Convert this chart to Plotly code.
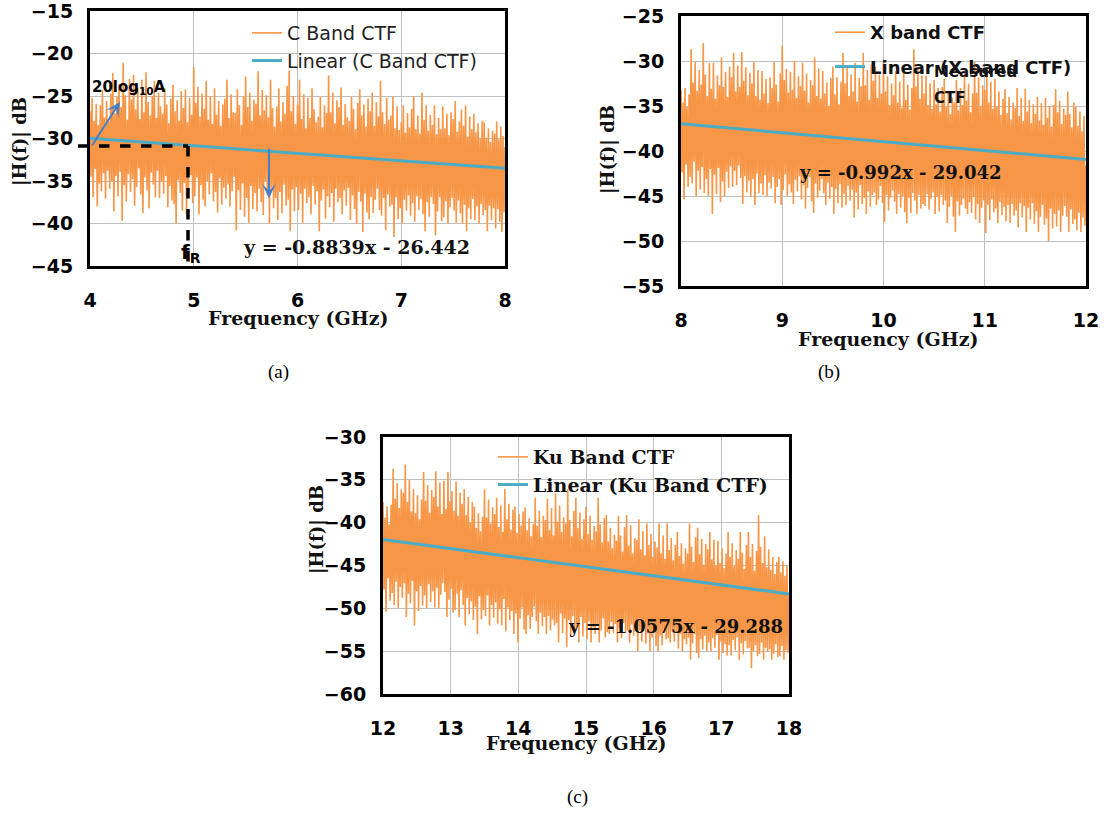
import numpy as np
import plotly.graph_objects as go

# ---------------- data ----------------
c_band_range = [4, 8]      # GHz
x_band_range = [8, 12]
ku_band_range = [12, 18]

c_band_db = [
    -26.8, -34.5, -25.2, -36.9, -27.9, -33.6, -25.9, -38.0, -28.4, -35.3,
    -26.1, -36.2, -24.3, -34.1, -27.5, -37.1, -25.6, -33.8, -28.0, -35.9,
    -24.7, -35.0, -22.3, -38.6, -27.0, -34.4, -25.1, -36.8, -23.6, -33.9,
    -26.3, -39.7, -21.1, -35.5, -24.9, -37.4, -27.8, -34.2, -23.0, -36.3,
    -25.4, -34.8, -22.5, -37.9, -26.6, -35.7, -24.0, -33.5, -27.7, -36.6,
    -23.1, -38.8, -26.9, -34.6, -22.2, -36.1, -25.7, -38.2, -27.3, -34.0,
    -25.0, -35.4, -23.2, -36.9, -27.6, -33.8, -24.6, -37.0, -26.2, -35.1,
    -27.1, -36.5, -24.1, -34.4, -26.0, -38.1, -28.2, -35.6, -25.3, -37.3,
    -23.7, -37.7, -26.8, -40.0, -25.5, -34.9, -27.9, -36.4, -24.4, -38.5,
    -26.4, -35.2, -24.2, -38.9, -28.1, -36.0, -25.2, -34.3, -27.2, -37.6,
    -21.6, -36.8, -25.8, -34.6, -23.9, -38.9, -27.4, -35.5, -24.7, -37.2,
    -26.5, -38.0, -23.2, -35.0, -27.8, -36.6, -25.0, -34.1, -28.3, -37.4,
    -24.1, -36.3, -27.2, -38.7, -25.6, -34.7, -28.5, -37.8, -26.0, -35.8,
    -25.3, -37.1, -23.1, -35.4, -27.6, -38.0, -24.8, -36.2, -26.9, -34.5,
    -27.0, -40.8, -24.2, -36.1, -26.1, -38.4, -28.4, -35.3, -25.1, -39.2,
    -22.7, -37.0, -26.3, -39.9, -24.6, -35.6, -27.9, -38.3, -25.4, -36.4,
    -25.9, -38.6, -22.1, -35.9, -27.3, -37.5, -24.3, -39.0, -26.7, -35.0,
    -24.9, -36.7, -27.5, -40.0, -23.1, -35.8, -26.4, -38.2, -28.6, -37.0,
    -26.2, -39.6, -24.1, -36.3, -28.0, -38.8, -25.7, -35.4, -27.1, -37.9,
    -23.8, -37.2, -22.0, -40.9, -26.8, -36.0, -25.0, -38.6, -28.3, -35.7,
    -26.0, -38.4, -23.1, -36.5, -27.7, -39.9, -24.8, -35.9, -28.8, -37.6,
    -25.2, -36.9, -27.6, -38.9, -24.1, -35.6, -26.6, -37.8, -28.1, -36.2,
    -27.4, -40.9, -25.1, -37.3, -28.7, -36.0, -26.1, -39.4, -27.0, -36.8,
    -22.6, -38.1, -26.9, -36.4, -24.6, -39.8, -28.2, -35.9, -25.5, -37.5,
    -26.3, -37.0, -24.0, -38.9, -28.4, -36.1, -25.9, -37.9, -27.5, -35.8,
    -27.9, -39.6, -25.1, -36.7, -26.5, -38.3, -28.9, -40.0, -25.8, -36.3,
    -24.2, -37.4, -27.3, -41.0, -26.0, -36.5, -28.6, -38.7, -25.3, -39.5,
    -26.8, -36.9, -24.6, -38.8, -28.5, -37.2, -25.7, -35.9, -27.4, -38.4,
    -23.2, -39.1, -26.9, -37.0, -28.3, -40.8, -25.2, -36.6, -27.8, -38.0,
    -27.3, -37.8, -25.1, -41.6, -28.8, -36.9, -26.2, -39.5, -29.0, -38.2,
    -28.1, -39.9, -26.1, -37.2, -29.3, -38.5, -27.0, -36.7, -28.7, -39.1,
    -26.5, -37.6, -25.0, -39.8, -28.9, -36.8, -27.3, -38.4, -29.4, -37.1,
    -24.6, -38.9, -27.8, -40.9, -26.1, -37.5, -29.1, -39.2, -27.2, -36.9,
    -28.4, -37.7, -26.1, -41.4, -29.5, -38.6, -27.6, -36.9, -28.9, -39.7,
    -26.2, -39.3, -28.8, -37.4, -27.1, -40.0, -29.6, -38.1, -26.9, -37.0,
    -27.7, -38.5, -25.6, -39.9, -29.2, -37.3, -28.0, -38.8, -26.6, -40.0,
    -28.5, -37.8, -26.1, -40.9, -29.8, -38.2, -27.4, -39.5, -28.9, -37.1,
    -27.1, -39.6, -29.3, -38.0, -28.2, -40.0, -30.0, -37.7, -27.9, -39.0,
    -28.1, -38.4, -29.9, -40.9, -28.8, -37.9, -30.4, -39.6, -29.1, -38.2,
    -29.4, -40.6, -28.0, -38.3, -30.1, -39.8, -28.6, -41.0, -29.7, -38.7,
    -31.0,
]

x_band_db = [
    -33.2, -42.4, -34.6, -45.4, -33.0, -41.5, -35.1, -44.0, -33.7, -42.9,
    -28.7, -43.6, -32.4, -41.2, -30.1, -45.0, -33.3, -42.2, -31.0, -44.3,
    -32.6, -41.8, -28.0, -44.7, -31.5, -43.1, -33.9, -45.0, -30.2, -42.0,
    -33.1, -47.0, -30.2, -42.6, -34.2, -44.8, -31.6, -41.9, -32.7, -45.7,
    -29.6, -43.4, -32.9, -45.0, -31.2, -42.3, -34.0, -44.1, -30.6, -41.7,
    -31.8, -44.0, -29.1, -42.2, -33.4, -43.8, -30.5, -41.6, -32.9, -43.0,
    -29.0, -45.9, -32.2, -42.8, -30.7, -44.6, -33.8, -43.3, -31.3, -45.1,
    -32.5, -43.1, -30.1, -46.0, -33.9, -42.5, -31.0, -44.7, -34.3, -43.6,
    -31.1, -44.9, -33.6, -42.7, -32.0, -45.0, -34.7, -43.5, -31.8, -44.2,
    -33.0, -42.9, -30.1, -45.8, -32.6, -44.0, -34.5, -43.1, -31.4, -46.0,
    -28.3, -44.3, -32.1, -42.6, -30.9, -45.0, -33.5, -43.7, -31.2, -44.6,
    -33.2, -45.9, -30.0, -43.2, -34.1, -44.5, -31.7, -42.8, -32.8, -45.4,
    -30.2, -43.8, -33.3, -46.4, -31.4, -44.1, -34.6, -42.9, -32.1, -45.6,
    -32.7, -46.9, -29.6, -43.6, -33.9, -45.2, -30.8, -44.4, -34.2, -43.1,
    -31.1, -44.7, -33.6, -46.0, -32.4, -43.5, -35.0, -45.3, -31.9, -44.0,
    -30.6, -47.0, -33.7, -44.2, -31.8, -45.8, -34.8, -43.7, -32.3, -46.3,
    -29.1, -44.8, -32.5, -46.0, -30.6, -43.9, -33.9, -45.5, -31.5, -44.3,
    -33.4, -47.4, -30.2, -44.6, -34.5, -46.5, -31.9, -43.8, -32.8, -45.9,
    -29.1, -45.2, -32.7, -47.0, -31.0, -44.5, -34.3, -46.2, -30.4, -44.9,
    -32.2, -44.6, -30.6, -46.0, -34.1, -45.4, -31.5, -43.9, -33.6, -45.8,
    -30.1, -47.9, -33.4, -44.9, -31.7, -46.6, -34.9, -45.2, -32.5, -44.4,
    -33.8, -45.6, -31.1, -47.0, -34.6, -44.8, -32.3, -46.3, -35.2, -45.0,
    -31.2, -46.8, -34.3, -48.0, -32.6, -45.2, -35.4, -46.9, -33.0, -44.7,
    -28.7, -45.5, -32.8, -47.0, -30.9, -44.9, -34.2, -46.4, -31.6, -45.9,
    -33.6, -46.1, -31.6, -44.8, -34.9, -46.5, -32.5, -45.3, -35.3, -44.6,
    -32.1, -47.0, -34.8, -45.1, -33.0, -46.7, -35.6, -44.9, -32.9, -46.0,
    -32.0, -45.5, -35.1, -48.0, -33.3, -46.2, -35.9, -45.0, -34.1, -47.3,
    -34.6, -49.0, -32.1, -45.6, -35.5, -47.2, -33.0, -46.0, -34.9, -45.3,
    -31.1, -46.4, -34.4, -47.0, -32.5, -45.7, -35.7, -46.9, -33.6, -45.1,
    -30.1, -47.6, -33.5, -45.9, -31.8, -48.0, -35.0, -46.3, -32.7, -45.5,
    -33.2, -49.1, -31.0, -46.0, -34.6, -47.7, -32.3, -45.4, -35.3, -46.8,
    -32.0, -46.4, -35.1, -48.0, -33.4, -45.7, -36.0, -47.1, -34.2, -46.2,
    -33.1, -47.8, -35.8, -46.0, -34.0, -48.0, -36.5, -45.9, -34.6, -47.2,
    -35.2, -46.6, -33.0, -48.5, -36.1, -45.8, -34.1, -47.4, -36.7, -46.1,
    -33.1, -49.0, -35.6, -46.3, -34.3, -47.6, -36.9, -45.8, -34.8, -48.1,
    -35.9, -46.7, -34.0, -49.0, -36.6, -47.3, -34.7, -46.0, -37.1, -48.2,
    -34.1, -47.5, -36.3, -50.0, -35.0, -46.4, -37.3, -48.6, -34.9, -47.0,
    -33.1, -48.4, -35.7, -46.6, -34.4, -49.0, -37.0, -47.2, -35.3, -46.1,
    -36.0, -47.3, -33.4, -49.0, -35.9, -46.5, -37.4, -48.1, -34.6, -47.6,
    -35.1, -48.8, -37.2, -46.9, -35.6, -49.0, -37.8, -47.4, -36.1, -48.3,
    -41.6,
]

ku_band_db = [
    -37.6, -47.8, -39.4, -50.4, -38.1, -46.5, -40.2, -49.1, -37.9, -48.2,
    -33.7, -49.6, -37.2, -46.9, -35.4, -50.0, -38.3, -47.5, -36.1, -48.8,
    -36.5, -47.1, -33.2, -51.0, -37.6, -48.3, -35.0, -49.4, -38.7, -46.8,
    -36.1, -52.0, -38.9, -48.0, -36.8, -50.3, -39.6, -47.4, -37.3, -49.7,
    -34.1, -48.5, -37.4, -50.0, -35.6, -47.2, -38.8, -49.3, -36.2, -48.0,
    -37.0, -49.9, -34.0, -47.6, -38.1, -50.0, -35.3, -48.4, -39.0, -47.0,
    -35.1, -48.1, -38.4, -51.0, -34.1, -49.0, -37.5, -47.7, -36.3, -50.5,
    -38.6, -50.2, -35.2, -48.3, -39.2, -51.0, -36.5, -47.9, -37.8, -49.6,
    -36.1, -52.0, -39.1, -48.8, -37.0, -50.7, -40.0, -49.2, -37.6, -51.4,
    -38.1, -49.8, -40.6, -53.0, -38.9, -48.6, -41.0, -51.3, -39.3, -50.2,
    -36.1, -50.9, -39.4, -48.5, -37.3, -52.0, -40.1, -49.6, -38.2, -51.1,
    -39.0, -49.3, -37.1, -51.8, -40.5, -50.1, -38.0, -52.0, -41.1, -48.9,
    -36.1, -52.7, -39.6, -49.9, -37.8, -51.4, -40.8, -50.3, -38.5, -53.0,
    -38.1, -50.6, -41.2, -54.0, -39.0, -51.2, -40.3, -49.9, -38.7, -52.5,
    -38.2, -53.0, -40.9, -50.8, -39.5, -52.4, -41.6, -51.0, -40.2, -49.8,
    -37.1, -51.5, -40.4, -53.0, -38.6, -50.5, -41.7, -52.1, -39.2, -51.0,
    -39.7, -53.0, -37.2, -50.9, -40.9, -52.6, -38.3, -51.3, -41.5, -52.0,
    -36.6, -51.7, -39.9, -54.0, -38.0, -50.6, -41.1, -52.9, -39.4, -51.2,
    -40.1, -54.5, -36.1, -51.4, -39.7, -53.1, -41.6, -50.9, -38.6, -52.6,
    -37.1, -52.2, -40.6, -54.0, -38.8, -51.0, -41.9, -53.3, -39.6, -51.7,
    -38.1, -53.6, -41.3, -51.5, -39.2, -54.0, -42.0, -52.2, -40.4, -53.0,
    -41.0, -51.9, -37.1, -54.0, -40.2, -52.6, -42.3, -51.2, -39.5, -53.4,
    -39.1, -52.8, -42.2, -53.0, -40.6, -51.6, -43.0, -52.9, -41.4, -51.8,
    -42.1, -54.0, -39.2, -52.3, -41.5, -53.5, -43.4, -51.7, -40.5, -52.9,
    -39.1, -52.6, -42.7, -54.0, -40.3, -51.9, -43.6, -53.2, -41.8, -52.4,
    -42.0, -55.0, -39.6, -52.6, -43.1, -53.9, -41.0, -52.1, -43.8, -54.1,
    -40.1, -52.9, -42.6, -55.0, -41.3, -53.4, -44.0, -52.5, -42.2, -54.4,
    -42.9, -55.0, -40.1, -53.2, -43.6, -54.3, -41.5, -52.8, -44.2, -53.6,
    -40.1, -53.5, -43.2, -54.0, -41.8, -52.7, -44.4, -53.9, -42.6, -52.9,
    -41.1, -54.7, -43.9, -53.0, -42.4, -55.0, -44.8, -53.6, -43.0, -54.2,
    -43.6, -53.4, -40.1, -56.0, -42.8, -54.1, -44.6, -53.0, -41.7, -55.2,
    -40.6, -55.8, -43.7, -53.6, -41.9, -54.8, -44.9, -53.2, -42.5, -55.0,
    -43.1, -54.0, -41.1, -55.0, -44.3, -53.5, -42.0, -54.6, -45.0, -53.1,
    -42.1, -56.0, -44.7, -53.9, -43.0, -55.2, -45.3, -54.2, -43.6, -55.5,
    -41.1, -54.3, -44.0, -55.5, -42.4, -53.7, -45.1, -54.9, -43.2, -53.4,
    -44.2, -56.0, -41.1, -54.1, -43.5, -55.4, -45.4, -53.8, -42.6, -54.7,
    -41.1, -54.6, -44.0, -57.0, -42.5, -55.0, -45.6, -54.3, -43.3, -55.6,
    -39.1, -55.3, -42.8, -54.0, -44.7, -56.0, -41.6, -54.6, -45.2, -55.1,
    -43.1, -54.8, -45.5, -56.0, -44.0, -55.3, -46.0, -54.2, -44.6, -55.7,
    -44.0, -55.6, -45.8, -54.4, -44.5, -56.0, -46.2, -54.9, -45.0, -55.2,
    -48.5,
]

# Excel linear trendlines (slope, intercept) printed on the chart
c_fit = (-0.8839, -26.442)
x_fit = (-0.992, -29.042)
ku_fit = (-1.0575, -29.288)

c_names = ["C Band CTF", "Linear (C Band CTF)"]
x_names = ["X band CTF", "Linear (X band CTF)"]
ku_names = ["Ku Band CTF", "Linear (Ku Band CTF)"]

c_yticks = [-45, -40, -35, -30, -25, -20, -15]
x_yticks = [-55, -50, -45, -40, -35, -30, -25]
ku_yticks = [-60, -55, -50, -45, -40, -35, -30]

# ---------------- styling ----------------
W, H = 1114, 815
ORANGE = "#F79646"
TEAL = "#4BACC6"
ARROW = "#4A7EC4"


def px(x):
    return x / W


def py(y):
    return 1 - y / H


fig = go.Figure()

panels = [
    (c_band_db, c_band_range, c_fit, c_names, "x", "y", "legend", c_yticks),
    (x_band_db, x_band_range, x_fit, x_names, "x2", "y2", "legend2", x_yticks),
    (ku_band_db, ku_band_range, ku_fit, ku_names, "x3", "y3", "legend3", ku_yticks),
]

for vals, rng, fit, names, xa, ya, lg, _ in panels:
    f = np.linspace(rng[0], rng[1], len(vals))
    fig.add_trace(go.Scatter(
        x=f, y=vals, mode="lines", name=names[0],
        line=dict(color=ORANGE, width=1.6), xaxis=xa, yaxis=ya,
        legend=lg, legendgroup=names[0]))
    fx = np.array(rng, dtype=float)
    fig.add_trace(go.Scatter(
        x=fx, y=fit[0] * fx + fit[1], mode="lines", name=names[1],
        line=dict(color=TEAL, width=3), xaxis=xa, yaxis=ya,
        legend=lg, legendgroup=names[1]))

tickfont = dict(family="DejaVu Sans", size=19, color="black", weight="bold")


def axis_common():
    return dict(showline=True, linewidth=3, linecolor="black", mirror=True,
                showgrid=True, gridcolor="#BFBFBF", gridwidth=1,
                zeroline=False, ticks="", tickfont=tickfont,
                automargin=False, ticklabeloverflow="allow")


# panel pixel boxes: (left, right, top, bottom)
boxes = [(90, 505, 11, 266), (681, 1086, 16, 286), (383, 789, 437, 694)]
layout = {}
for i, (box, p) in enumerate(zip(boxes, panels)):
    l, r, t, b = box
    sx = "" if i == 0 else str(i + 1)
    rng = p[1]
    yt = p[7]
    xax = axis_common()
    xax.update(domain=[px(l), px(r)], range=rng, dtick=1,
               anchor="y" + sx, ticklabelstandoff=15)
    yax = axis_common()
    yax.update(domain=[py(b), py(t)], range=[yt[0], yt[-1]], tickvals=yt,
               anchor="x" + sx, ticklabelstandoff=10)
    layout["xaxis" + sx] = xax
    layout["yaxis" + sx] = yax

fig.update_layout(**layout)

legend_common = dict(bgcolor="rgba(0,0,0,0)", borderwidth=0,
                     xanchor="left", yanchor="top", itemwidth=30,
                     traceorder="grouped")
fig.update_layout(
    showlegend=True,
    legend=dict(legend_common, x=px(247), y=py(14), tracegroupgap=0,
                font=dict(family="DejaVu Sans", size=19, color="#222222")),
    legend2=dict(legend_common, x=px(830), y=py(14), tracegroupgap=8,
                 font=dict(family="DejaVu Sans", size=18, color="#111111",
                           weight="bold")),
    legend3=dict(legend_common, x=px(493), y=py(438), tracegroupgap=0,
                 font=dict(family="DejaVu Serif", size=19, color="#111111",
                           weight="bold")),
)

ann = []
title_font = dict(family="DejaVu Serif", size=19, color="#111111",
                  weight="bold")
# axis titles
for cx, cy in [(298, 318), (888, 339), (576, 743)]:
    ann.append(dict(text="Frequency (GHz)", x=px(cx), y=py(cy), xref="paper",
                    yref="paper", showarrow=False, font=title_font,
                    xanchor="center", yanchor="middle"))
for cx, cy in [(20, 142), (608, 150), (317, 530)]:
    ann.append(dict(text="|H(f)| dB", x=px(cx), y=py(cy), xref="paper",
                    yref="paper", showarrow=False, textangle=-90,
                    font=dict(title_font, size=18),
                    xanchor="center", yanchor="middle"))
# equations
eq_font = dict(family="DejaVu Serif", color="#111111", weight="bold")
for txt, cx, cy, sz in [("y = -0.8839x - 26.442", 356, 247, 19),
                        ("y = -0.992x - 29.042", 900, 172, 18),
                        ("y = -1.0575x - 29.288", 675, 626, 18)]:
    ann.append(dict(text=txt, x=px(cx), y=py(cy), xref="paper", yref="paper",
                    showarrow=False, font=dict(eq_font, size=sz),
                    xanchor="center", yanchor="middle"))
# captions
for txt, cx, cy in [("(a)", 278, 372), ("(b)", 829, 372), ("(c)", 577, 797)]:
    ann.append(dict(text=txt, x=px(cx), y=py(cy), xref="paper", yref="paper",
                    showarrow=False,
                    font=dict(family="Liberation Serif", size=19,
                              color="black"),
                    xanchor="center", yanchor="middle"))
# panel (a) markup
ann.append(dict(text="20log<sub>10</sub>A", x=px(90), y=py(87), xref="paper",
                yref="paper", showarrow=False, xanchor="left",
                yanchor="middle",
                font=dict(family="DejaVu Sans", size=15, color="black",
                          weight="bold")))
ann.append(dict(text="f<sub>R</sub>", x=px(179), y=py(253), xref="paper",
                yref="paper", showarrow=False, xanchor="left",
                yanchor="middle",
                font=dict(family="DejaVu Sans", size=20, color="black",
                          weight="bold")))
# arrows: head position in paper coords, tail as pixel offset
ann.append(dict(x=px(120), y=py(102), ax=-29, ay=45, xref="paper",
                yref="paper", axref="pixel", ayref="pixel", text="",
                showarrow=True, arrowhead=3, arrowsize=1.2, arrowwidth=2,
                arrowcolor=ARROW))
ann.append(dict(x=px(269), y=py(198), ax=0, ay=-51, xref="paper",
                yref="paper", axref="pixel", ayref="pixel", text="",
                showarrow=True, arrowhead=3, arrowsize=1.2, arrowwidth=2,
                arrowcolor=ARROW))
# panel (b) markup
mfont = dict(family="DejaVu Sans", size=15, color="#111111", weight="bold")
ann.append(dict(text="Measured", x=px(932), y=py(72), xref="paper",
                yref="paper", showarrow=False, xanchor="left",
                yanchor="middle", font=mfont))
ann.append(dict(text="CTF", x=px(932), y=py(98), xref="paper", yref="paper",
                showarrow=False, xanchor="left", yanchor="middle",
                font=mfont))

shapes = [
    dict(type="line", xref="paper", yref="paper", x0=px(78), x1=px(188),
         y0=py(146), y1=py(146), line=dict(color="black", width=3.5,
                                           dash="dash")),
    dict(type="line", xref="paper", yref="paper", x0=px(188), x1=px(188),
         y0=py(146), y1=py(264), line=dict(color="black", width=3.5,
                                           dash="dash")),
]

fig.update_layout(
    annotations=ann, shapes=shapes,
    width=W, height=H, margin=dict(l=0, r=0, t=0, b=0),
    paper_bgcolor="white", plot_bgcolor="white",
)

fig.write_html("out.html")
